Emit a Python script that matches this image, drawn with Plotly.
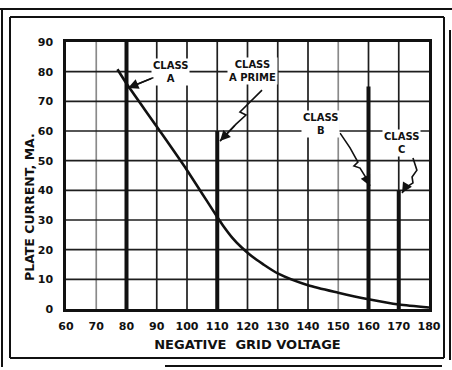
import plotly.graph_objects as go

# Plate current vs. negative grid voltage
grid_v = [77, 80, 90, 100, 110, 112, 115, 118, 120, 123, 125, 130, 140, 150, 160, 170, 180]
plate_ma = [80.8, 76, 61.5, 46.8, 31, 28, 24, 20.8, 19, 16.6, 15.2, 12, 8, 5.5, 3.3, 1.5, 0.5]

# Operating-class bias lines: grid voltage and top of the heavy line (mA)
class_names = ["A", "A PRIME", "B", "C"]
class_volts = [80, 110, 160, 170]
class_tops = [90, 60, 75, 40]

x_ticks = list(range(60, 181, 10))
y_ticks = list(range(0, 91, 10))

# Label positions and leader paths (volts, mA)
label_pos = [(94.5, 80), (121.5, 80.3), (144, 62.4), (171, 56)]
leaders = [
    [(89.4, 78.2), (80.5, 74.5)],
    [(124.8, 73.8), (120.2, 69.1), (117.5, 66.4), (119.5, 65.4), (116.2, 62.3), (110.9, 56.6)],
    [(150.6, 59.3), (153.9, 54.3), (156.5, 49.5), (155.2, 48.2), (157.2, 47.5), (159.2, 44.2), (160.5, 41.5)],
    [(174.7, 50.9), (176.0, 46.8), (174.4, 44.5), (174.7, 42.5), (172.1, 40.8), (171.1, 39.1)],
]

FONT = "DejaVu Sans"
INK = "#111111"

W, H = 452, 370
ML, MR, MT, MB = 66, 23, 42, 61
PW, PH = W - ML - MR, H - MT - MB


def px_to_paper(px, py):
    """Convert figure pixel position to paper coordinates."""
    return (px - ML) / PW, (H - MB - py) / PH


fig = go.Figure()

# Grid drawn as shapes so a couple of lines can be lighter
shapes = []
light_x = {70, 150}
for v in x_ticks[1:-1]:
    shapes.append(dict(type="line", xref="x", yref="y", x0=v, x1=v, y0=0, y1=90,
                       line=dict(color="#8a8a8a" if v in light_x else "#1e1e1e", width=1.7),
                       layer="below"))
for v in y_ticks[1:-1]:
    shapes.append(dict(type="line", xref="x", yref="y", x0=60, x1=180, y0=v, y1=v,
                       line=dict(color="#1e1e1e", width=1.7), layer="below"))

# Heavy class lines
for xv, top in zip(class_volts, class_tops):
    fig.add_trace(go.Scatter(x=[xv, xv], y=[0, top], mode="lines",
                             line=dict(color=INK, width=4), hoverinfo="skip"))

# Characteristic curve
fig.add_trace(go.Scatter(x=grid_v, y=plate_ma, mode="lines",
                         line=dict(color=INK, width=2.6, shape="spline", smoothing=0.7),
                         hoverinfo="skip"))

# Leader lines
for path in leaders:
    fig.add_trace(go.Scatter(x=[p[0] for p in path], y=[p[1] for p in path], mode="lines",
                             line=dict(color=INK, width=1.6), hoverinfo="skip"))

annotations = []
for name, (lx, ly), path in zip(class_names, label_pos, leaders):
    annotations.append(dict(x=lx, y=ly, xref="x", yref="y",
                            text="CLASS<br>" + name, showarrow=False,
                            font=dict(family=FONT, size=10, color=INK, weight="bold"),
                            bgcolor="white", borderpad=1))
    (ax, ay), (tx, ty) = path[-2], path[-1]
    annotations.append(dict(x=tx, y=ty, ax=ax, ay=ay, xref="x", yref="y",
                            axref="x", ayref="y", text="", showarrow=True,
                            arrowhead=2, arrowsize=1.3, arrowwidth=1.6, arrowcolor=INK))

tx, ty = px_to_paper(29, 207)
annotations.append(dict(x=tx, y=ty, xref="paper", yref="paper", text="PLATE CURRENT, MA.",
                        showarrow=False, textangle=-90, xanchor="center", yanchor="middle",
                        font=dict(family=FONT, size=12.5, color=INK, weight="bold")))

# Double frame around the whole figure (figure pixels)
frame = [
    (10, 17, 444, 17), (10, 358, 444, 358), (10, 17, 10, 358), (444, 17, 444, 358),
    (0, 9, 452, 9), (2, 9, 2, 367), (450, 30, 450, 360), (165, 366, 442, 366),
]
for x0, y0, x1, y1 in frame:
    a0, b0 = px_to_paper(x0, y0)
    a1, b1 = px_to_paper(x1, y1)
    shapes.append(dict(type="line", xref="paper", yref="paper",
                       x0=a0, x1=a1, y0=b0, y1=b1,
                       line=dict(color=INK, width=2)))

fig.update_layout(
    width=W, height=H,
    margin=dict(l=ML, r=MR, t=MT, b=MB),
    paper_bgcolor="white", plot_bgcolor="white",
    showlegend=False,
    shapes=shapes,
    annotations=annotations,
    xaxis=dict(range=[60, 180], tickvals=x_ticks, ticktext=[str(v) for v in x_ticks],
               showgrid=False, zeroline=False, showline=True, mirror=True,
               linecolor=INK, linewidth=2.5, ticks="", ticklabelstandoff=5,
               tickfont=dict(family=FONT, size=11, color=INK, weight="bold"),
               title=dict(text="NEGATIVE  GRID VOLTAGE", standoff=8,
                          font=dict(family=FONT, size=13, color=INK, weight="bold"))),
    yaxis=dict(range=[0, 90], tickvals=y_ticks, ticktext=[str(v) for v in y_ticks],
               showgrid=False, zeroline=False, showline=True, mirror=True,
               linecolor=INK, linewidth=2.5, ticks="", ticklabelstandoff=8,
               tickfont=dict(family=FONT, size=11, color=INK, weight="bold")),
)

fig.write_html("out.html")
